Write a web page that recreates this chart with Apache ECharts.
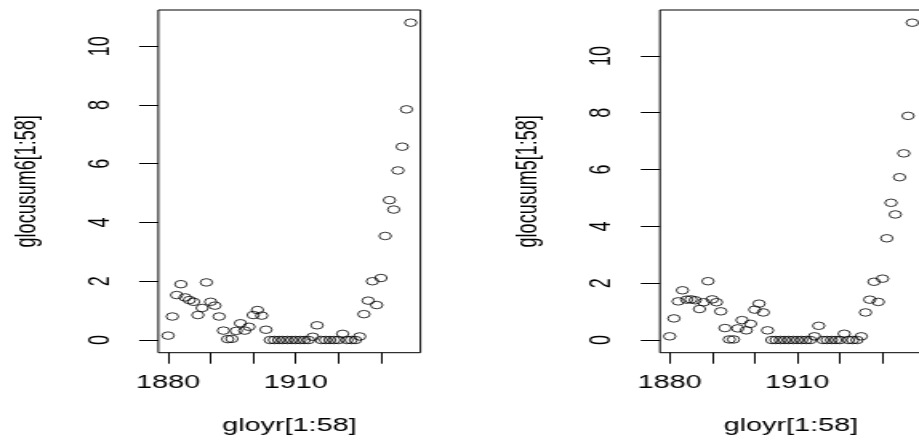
<!DOCTYPE html>
<html>
<head>
<meta charset="utf-8">
<script src="https://cdn.jsdelivr.net/npm/echarts@6/dist/echarts.min.js"></script>
<style>
html, body { margin: 0; padding: 0; background: #fff; overflow: hidden; }
#wrap { width: 919px; height: 443px; overflow: hidden; }
/* the reference is an R plot stretched sideways, so draw narrow and stretch */
#chart { width: 574px; height: 443px; transform: scaleX(1.601); transform-origin: 0 0; }
</style>
</head>
<body>
<div id="wrap"><div id="chart"></div></div>
<script>
const years = [1880, 1881, 1882, 1883, 1884, 1885, 1886, 1887, 1888, 1889,
  1890, 1891, 1892, 1893, 1894, 1895, 1896, 1897, 1898, 1899,
  1900, 1901, 1902, 1903, 1904, 1905, 1906, 1907, 1908, 1909,
  1910, 1911, 1912, 1913, 1914, 1915, 1916, 1917, 1918, 1919,
  1920, 1921, 1922, 1923, 1924, 1925, 1926, 1927, 1928, 1929,
  1930, 1931, 1932, 1933, 1934, 1935, 1936, 1937];

const glocusum6 = [0.15, 0.80, 1.53, 1.90, 1.45, 1.36, 1.30, 0.85, 1.09, 1.96,
  1.30, 1.17, 0.80, 0.32, 0.03, 0.04, 0.31, 0.57, 0.32, 0.45,
  0.85, 1.02, 0.83, 0.35, 0, 0, 0, 0, 0, 0,
  0, 0, 0, 0, 0.11, 0.50, 0, 0, 0, 0,
  0, 0.21, 0, 0, 0, 0.12, 0.88, 1.34, 2.00, 1.19,
  2.11, 3.54, 4.76, 4.44, 5.77, 6.58, 7.85, 10.80];

const glocusum5 = [0.13, 0.76, 1.36, 1.75, 1.42, 1.43, 1.40, 1.09, 1.33, 2.07,
  1.43, 1.33, 1.01, 0.42, 0.02, 0.02, 0.41, 0.70, 0.34, 0.57,
  1.07, 1.28, 0.97, 0.34, 0, 0, 0, 0, 0, 0,
  0, 0, 0, 0, 0.13, 0.50, 0, 0, 0, 0,
  0, 0.22, 0, 0, 0, 0.13, 0.97, 1.42, 2.05, 1.34,
  2.16, 3.58, 4.83, 4.42, 5.73, 6.57, 7.89, 11.17];

const xTicks = [1880, 1890, 1900, 1910, 1920, 1930];
const xLabels = [1880, 1910];
const yTicks = [0, 2, 4, 6, 8, 10];

const font = "Liberation Sans, Arial, sans-serif";

// R pads the data range by 4% on each side
const padMin = v => v.min - 0.04 * (v.max - v.min);
const padMax = v => v.max + 0.04 * (v.max - v.min);

function makeX(idx) {
  return {
    type: "value",
    gridIndex: idx,
    min: padMin,
    max: padMax,
    axisLine: { show: false, onZero: false },
    splitLine: { show: false },
    axisTick: { show: true, length: 11, customValues: xTicks, lineStyle: { color: "#000", width: 1 } },
    axisLabel: {
      customValues: xLabels,
      formatter: v => String(v),
      margin: 21,
      fontSize: 18,
      color: "#000",
      fontFamily: font
    },
    name: "gloyr[1:58]",
    nameLocation: "middle",
    nameGap: 64,
    nameTextStyle: { fontSize: 18, color: "#000", fontFamily: font }
  };
}

function makeY(idx, title) {
  return {
    type: "value",
    gridIndex: idx,
    min: padMin,
    max: padMax,
    axisLine: { show: false, onZero: false },
    splitLine: { show: false },
    axisTick: { show: true, length: 12, customValues: yTicks, lineStyle: { color: "#000", width: 1 } },
    axisLabel: { customValues: yTicks, rotate: 90, margin: 27, fontSize: 18, color: "#000", fontFamily: font },
    name: title,
    nameLocation: "middle",
    nameRotate: 90,
    nameGap: 73,
    nameTextStyle: { fontSize: 18, color: "#000", fontFamily: font }
  };
}

function makeSeries(idx, vals) {
  return {
    type: "scatter",
    xAxisIndex: idx,
    yAxisIndex: idx,
    data: years.map((y, i) => [y, vals[i]]),
    symbol: "circle",
    symbolSize: 7.5,
    itemStyle: { color: "rgba(0,0,0,0)", borderColor: "#000", borderWidth: 1 },
    emphasis: { disabled: true },
    clip: false
  };
}

let mychart = echarts.init(document.getElementById("chart"));
let option = {
  animation: false,
  backgroundColor: "#fff",
  grid: [
    { left: 98.9, top: 10, width: 163.7, height: 342.7, show: true, borderColor: "#000", borderWidth: 1, outerBoundsMode: "none" },
    { left: 412.2, top: 10, width: 163.7, height: 342.7, show: true, borderColor: "#000", borderWidth: 1, outerBoundsMode: "none" }
  ],
  xAxis: [makeX(0), makeX(1)],
  yAxis: [makeY(0, "glocusum6[1:58]"), makeY(1, "glocusum5[1:58]")],
  series: [makeSeries(0, glocusum6), makeSeries(1, glocusum5)]
};
mychart.setOption(option);
</script>
</body>
</html>
